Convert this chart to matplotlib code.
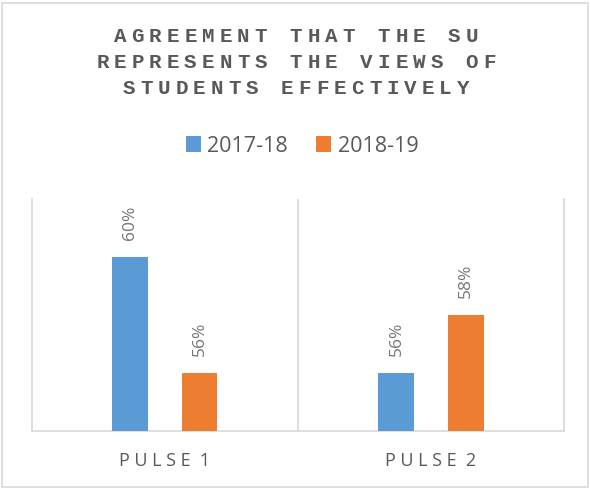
import matplotlib.pyplot as plt
import matplotlib.patches as patches
import numpy as np

# data
categories = ['PULSE 1', 'PULSE 2']
series_names = ['2017-18', '2018-19']
values_1718 = [60, 56]
values_1819 = [56, 58]
title_lines = ['AGREEMENT THAT THE SU', 'REPRESENTS THE VIEWS OF', 'STUDENTS EFFECTIVELY']

blue = '#5B9BD5'
orange = '#ED7D31'
grey = '#595959'
line_grey = '#D9D9D9'

fig = plt.figure(figsize=(5.9, 4.88), dpi=100)
ax = fig.add_axes([0.054, 0.117, 0.902, 0.475])

x = np.arange(len(categories))
w = 0.135
off = 0.13
b1 = ax.bar(x - off, values_1718, width=w, color=blue, label=series_names[0], zorder=3)
b2 = ax.bar(x + off, values_1819, width=w, color=orange, label=series_names[1], zorder=3)

# data labels, rotated like the original
for bars, vals in [(b1, values_1718), (b2, values_1819)]:
    for rect, v in zip(bars, vals):
        ax.annotate(f'{v}%', (rect.get_x() + rect.get_width() / 2, v),
                    xytext=(0, 12), textcoords='offset points',
                    rotation=90, ha='center', va='bottom',
                    fontsize=12.5, family='Open Sans', color='#767676')

ax.set_xlim(-0.5, 1.5)
ax.set_ylim(54, 62)
ax.set_yticks([])
ax.set_xticks(x)
ax.set_xticklabels(['P U L S E  1', 'P U L S E  2'], family='Open Sans',
                   fontsize=13, color=grey)
ax.tick_params(axis='x', length=0, pad=15)
ax.spines['top'].set_visible(False)
for s in ['left', 'right', 'bottom']:
    ax.spines[s].set_color(line_grey)
    ax.spines[s].set_linewidth(1.2)
ax.axvline(0.5, color=line_grey, lw=1.2, zorder=1)

# legend
leg = fig.legend(handles=[b1, b2], loc='center', bbox_to_anchor=(302 / 590, 1 - 146 / 488),
                 ncol=2, frameon=False, handlelength=0.7, handleheight=0.7,
                 handletextpad=0.3, columnspacing=1.3,
                 prop={'family': 'Open Sans', 'size': 15.5})
for t in leg.get_texts():
    t.set_color(grey)

# title with letter spacing, drawn char by char
pitch = 17.6 / 590
line_y = [37, 63, 89]
for line, yy in zip(title_lines, line_y):
    n = len(line)
    x0 = 296 / 590 - (n - 1) / 2 * pitch
    for i, ch in enumerate(line):
        fig.text(x0 + i * pitch, 1 - yy / 488, ch, ha='center', va='center',
                 family='Liberation Mono', weight='bold', fontsize=15, color=grey)

# light border round the whole chart
fig.patches.append(patches.Rectangle((0.004, 0.003), 0.992, 0.991, transform=fig.transFigure,
                                     fill=False, edgecolor=line_grey, lw=1.2))

fig.savefig('out.png', dpi=100)
